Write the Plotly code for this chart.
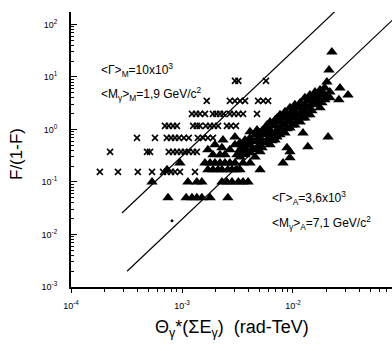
import plotly.graph_objects as go

# ---- data ----
# crosses: <Γ>_M sample
cross_x = [
    3.00e-3, 3.22e-3, 5.71e-3,
    1.67e-3, 2.70e-3, 3.00e-3, 3.33e-3, 3.70e-3, 4.85e-3, 5.40e-3, 5.97e-3,
    1.23e-3, 1.34e-3, 1.45e-3, 1.61e-3, 1.90e-3, 2.04e-3, 2.20e-3, 2.37e-3, 2.70e-3, 2.94e-3, 3.22e-3, 3.55e-3, 4.74e-3,
    7.03e-4, 7.60e-4, 8.30e-4, 9.00e-4, 1.26e-3, 1.36e-3, 1.45e-3, 1.64e-3, 1.79e-3, 1.94e-3, 2.11e-3, 2.54e-3, 2.76e-3, 3.06e-3,
    3.93e-4, 5.71e-4, 7.30e-4, 7.96e-4, 8.65e-4, 9.40e-4, 1.04e-3, 1.15e-3, 1.39e-3, 1.55e-3, 1.71e-3, 1.90e-3,
    2.25e-4, 4.84e-4, 5.15e-4, 7.60e-4, 8.30e-4, 9.00e-4, 9.80e-4, 1.06e-3, 1.15e-3, 1.26e-3, 1.36e-3,
    1.82e-4, 2.65e-4, 4.00e-4, 5.37e-4, 6.75e-4, 7.30e-4, 7.96e-4, 8.65e-4, 9.59e-4, 1.31e-3,
]
cross_y = [
    8.4, 8.4, 8.4,
    3.5, 3.5, 3.5, 3.5, 3.5, 3.5, 3.5, 3.5,
    1.98, 1.98, 1.98, 1.98, 1.98, 1.98, 1.98, 1.98, 1.98, 1.98, 1.98, 1.98, 1.98,
    1.17, 1.17, 1.17, 1.17, 1.17, 1.17, 1.17, 1.17, 1.17, 1.17, 1.17, 1.17, 1.17, 1.17,
    0.69, 0.69, 0.69, 0.69, 0.69, 0.69, 0.69, 0.69, 0.69, 0.69, 0.69, 0.69,
    0.375, 0.375, 0.375, 0.375, 0.375, 0.375, 0.375, 0.375, 0.375, 0.375, 0.375,
    0.156, 0.156, 0.156, 0.156, 0.156, 0.156, 0.156, 0.156, 0.156, 0.156,
]

# triangles: <Γ>_A sample
tri_x = [
    3.33e-3, 3.33e-3, 3.33e-3,
    3.55e-3, 3.55e-3,
    3.70e-3, 3.70e-3, 3.70e-3,
    3.85e-3, 3.85e-3,
    4.10e-3, 4.10e-3, 4.10e-3,
    4.55e-3, 4.55e-3, 4.55e-3,
    4.74e-3, 4.74e-3, 4.74e-3,
    5.05e-3, 5.05e-3, 5.05e-3, 5.05e-3,
    5.60e-3, 5.60e-3, 5.60e-3,
    5.83e-3, 5.83e-3, 5.83e-3,
    6.21e-3, 6.21e-3, 6.21e-3, 6.21e-3,
    6.89e-3, 6.89e-3, 6.89e-3, 6.89e-3,
    7.64e-3, 7.64e-3, 7.64e-3, 7.64e-3,
    8.47e-3, 8.47e-3, 8.47e-3, 8.47e-3,
    9.39e-3, 9.39e-3, 9.39e-3, 9.39e-3,
    1.04e-2, 1.04e-2, 1.04e-2, 1.04e-2,
    1.16e-2, 1.16e-2, 1.16e-2, 1.16e-2,
    1.28e-2, 1.28e-2, 1.28e-2, 1.28e-2,
    1.42e-2, 1.42e-2, 1.42e-2, 1.42e-2,
    1.58e-2, 1.58e-2, 1.58e-2,
    1.75e-2, 1.75e-2, 1.75e-2, 1.75e-2,
    1.94e-2, 1.94e-2, 1.94e-2,
    2.15e-2, 2.15e-2,
    3.48e-3, 3.48e-3,
    4.28e-3, 4.28e-3,
    5.26e-3, 5.26e-3, 5.26e-3,
    6.47e-3, 6.47e-3, 6.47e-3,
    7.18e-3, 7.18e-3, 7.18e-3,
    7.96e-3, 7.96e-3, 7.96e-3,
    8.83e-3, 8.83e-3, 8.83e-3,
    9.80e-3, 9.80e-3, 9.80e-3,
    1.09e-2, 1.09e-2, 1.09e-2,
    1.21e-2, 1.21e-2, 1.21e-2,
    1.34e-2, 1.34e-2, 1.34e-2,
    1.48e-2, 1.48e-2, 1.48e-2,
    1.64e-2, 1.64e-2,
    1.82e-2, 1.82e-2,
    2.24e-2, 2.11e-2, 2.02e-2, 2.65e-2, 3.13e-2, 2.59e-2, 2.07e-2,
    1.23e-2, 9.39e-3, 9.39e-3, 1.36e-2, 8.83e-3, 8.13e-3, 5.05e-3,
    5.37e-4, 7.33e-4, 7.48e-4, 9.59e-4, 1.09e-3, 1.13e-3, 1.23e-3, 1.36e-3,
    1.36e-3, 1.51e-3, 1.51e-3, 1.61e-3, 1.71e-3, 1.79e-3, 1.79e-3, 1.90e-3,
    1.90e-3, 1.98e-3, 2.11e-3, 2.20e-3, 2.20e-3, 2.29e-3, 2.29e-3, 2.44e-3,
    2.44e-3, 2.54e-3, 2.59e-3, 2.59e-3, 2.70e-3, 2.70e-3, 2.82e-3, 2.82e-3,
    3.00e-3, 3.06e-3, 3.13e-3, 3.22e-3, 3.33e-3, 3.55e-3, 3.55e-3, 3.94e-3,
    4.10e-3, 4.55e-3, 1.98e-3, 2.29e-3, 1.71e-3, 3.00e-3, 2.34e-3, 3.00e-3,
    4.10e-3,
]
tri_y = [
    0.56, 0.41, 0.30,
    0.49, 0.36,
    0.63, 0.45, 0.33,
    0.56, 0.375,
    0.69, 0.51, 0.36,
    0.79, 0.58, 0.41,
    0.98, 0.63, 0.45,
    0.86, 0.69, 0.51, 0.375,
    1.07, 0.79, 0.56,
    1.22, 0.90, 0.63,
    1.39, 0.98, 0.72, 0.51,
    1.52, 1.17, 0.86, 0.63,
    1.90, 1.39, 1.07, 0.79,
    2.16, 1.66, 1.22, 0.86,
    2.58, 1.90, 1.39, 1.07,
    2.94, 2.16, 1.66, 1.22,
    3.21, 2.58, 1.90, 1.39,
    3.99, 2.94, 2.16, 1.66,
    4.55, 3.66, 2.58, 1.90,
    5.19, 3.99, 2.94,
    5.66, 4.55, 3.66, 2.58,
    6.18, 4.55, 3.66,
    5.19, 3.99,
    0.467, 0.344,
    0.607, 0.428,
    0.94, 0.607, 0.45,
    1.17, 0.824, 0.607,
    1.66, 0.98, 0.72,
    1.66, 1.22, 0.94,
    1.90, 1.46, 1.03,
    2.26, 1.66, 1.22,
    2.58, 1.90, 1.46,
    2.94, 2.26, 1.66,
    3.50, 2.58, 1.90,
    4.17, 3.07, 2.26,
    4.55, 3.35,
    5.19, 3.21,
    29.8, 13.6, 8.0, 6.18, 4.55, 3.66, 0.72,
    0.86, 0.375, 0.29, 0.467, 0.45, 0.23, 0.17,
    0.10, 0.17, 0.050, 0.23, 0.050, 0.10, 0.050, 0.050,
    0.10, 0.10, 0.050, 0.23, 0.17, 0.23, 0.050, 0.17,
    0.33, 0.23, 0.17, 0.33, 0.23, 0.17, 0.10, 0.33,
    0.23, 0.10, 0.050, 0.17, 0.23, 0.41, 0.17, 0.10,
    0.23, 0.17, 0.33, 0.10, 0.17, 0.23, 0.10, 0.10,
    0.23, 0.30, 0.51, 0.45, 0.41, 0.51, 0.63, 0.72,
    0.90,
]

dot_x = [8.13e-4]
dot_y = [0.0183]

# two reference lines  F/(1-F) ∝ x^2
line_M_x = [2.88e-4, 2.40e-2]
line_M_y = [0.0256, 178.0]
line_A_x = [3.20e-4, 7.94e-2]
line_A_y = [0.0020, 123.0]

x_tickvals = [1e-4, 1e-3, 1e-2]
x_ticktext = ["10<sup>-4</sup>", "10<sup>-3</sup>", "10<sup>-2</sup>"]
y_tickvals = [1e-3, 1e-2, 1e-1, 1e0, 1e1, 1e2]
y_ticktext = ["10<sup>-3</sup>", "10<sup>-2</sup>", "10<sup>-1</sup>",
              "10<sup>0</sup>", "10<sup>1</sup>", "10<sup>2</sup>"]

FONT = "Liberation Sans, Arial, Helvetica, sans-serif"

fig = go.Figure()
fig.add_trace(go.Scatter(x=line_M_x, y=line_M_y, mode="lines",
                         line=dict(color="black", width=1.2), hoverinfo="skip"))
fig.add_trace(go.Scatter(x=line_A_x, y=line_A_y, mode="lines",
                         line=dict(color="black", width=1.2), hoverinfo="skip"))
fig.add_trace(go.Scatter(x=cross_x, y=cross_y, mode="markers",
                         marker=dict(symbol="x-thin", size=6, color="black",
                                     line=dict(color="black", width=1.6))))
fig.add_trace(go.Scatter(x=tri_x, y=tri_y, mode="markers",
                         marker=dict(symbol="triangle-up", size=10, color="black",
                                     line=dict(width=0))))
fig.add_trace(go.Scatter(x=dot_x, y=dot_y, mode="markers",
                         marker=dict(symbol="circle", size=3, color="black")))

W, H = 392, 351
L, R, T, B = 71, 0, 12, 64

def px(xp):
    return (xp - L) / (W - L - R)

def py(yp):
    return (H - B - yp) / (H - T - B)

ann_font = dict(family=FONT, size=12, color="black")
annotations = [
    dict(text="&lt;Γ&gt;<sub>M</sub>=10x10<sup>3</sup>", x=px(99), y=py(70)),
    dict(text="&lt;M<sub>γ</sub>&gt;<sub>M</sub>=1,9 GeV/c<sup>2</sup>", x=px(99), y=py(94)),
    dict(text="&lt;Γ&gt;<sub>A</sub>=3,6x10<sup>3</sup>", x=px(270), y=py(198)),
    dict(text="&lt;M<sub>γ</sub>&gt;<sub>A</sub>=7,1 GeV/c<sup>2</sup>", x=px(270), y=py(223)),
]
for a in annotations:
    a.update(xref="paper", yref="paper", xanchor="left", yanchor="middle",
             showarrow=False, font=ann_font)

annotations.append(dict(text="Θ<sub>γ</sub>*(ΣE<sub>γ</sub>)\u00a0\u00a0(rad-TeV)",
                        xref="paper", yref="paper", x=px(232), y=py(328),
                        xanchor="center", yanchor="middle", showarrow=False,
                        font=dict(family=FONT, size=18, color="black")))
annotations.append(dict(text="F/(1-F)", xref="paper", yref="paper",
                        x=px(16), y=py(154), textangle=-90,
                        xanchor="center", yanchor="middle", showarrow=False,
                        font=dict(family=FONT, size=17, color="black")))

fig.update_layout(
    width=W, height=H,
    margin=dict(l=L, r=R, t=T, b=B, pad=0),
    paper_bgcolor="white", plot_bgcolor="white",
    showlegend=False,
    annotations=annotations,
    font=dict(family=FONT, color="black"),
)
fig.update_xaxes(
    type="log", range=[-4, -1.108],
    tickmode="array", tickvals=x_tickvals, ticktext=x_ticktext,
    ticks="outside", ticklen=4, tickwidth=1.4, tickcolor="black",
    minor=dict(ticks="outside", ticklen=3, tickwidth=1.2, tickcolor="black", dtick="D1"),
    showline=True, linecolor="black", linewidth=2,
    showgrid=False, zeroline=False,
    ticklabelstandoff=5,
    tickfont=dict(family=FONT, size=9, color="black"),
)
fig.update_yaxes(
    type="log", range=[-3, 2.236],
    tickmode="array", tickvals=y_tickvals, ticktext=y_ticktext,
    ticks="inside", ticklen=6, tickwidth=1.4, tickcolor="black",
    minor=dict(ticks="inside", ticklen=3, tickwidth=1.2, tickcolor="black", dtick="D1"),
    showline=True, linecolor="black", linewidth=2,
    showgrid=False, zeroline=False,
    ticklabelstandoff=10,
    tickfont=dict(family=FONT, size=9, color="black"),
)

fig.write_html("out.html")
